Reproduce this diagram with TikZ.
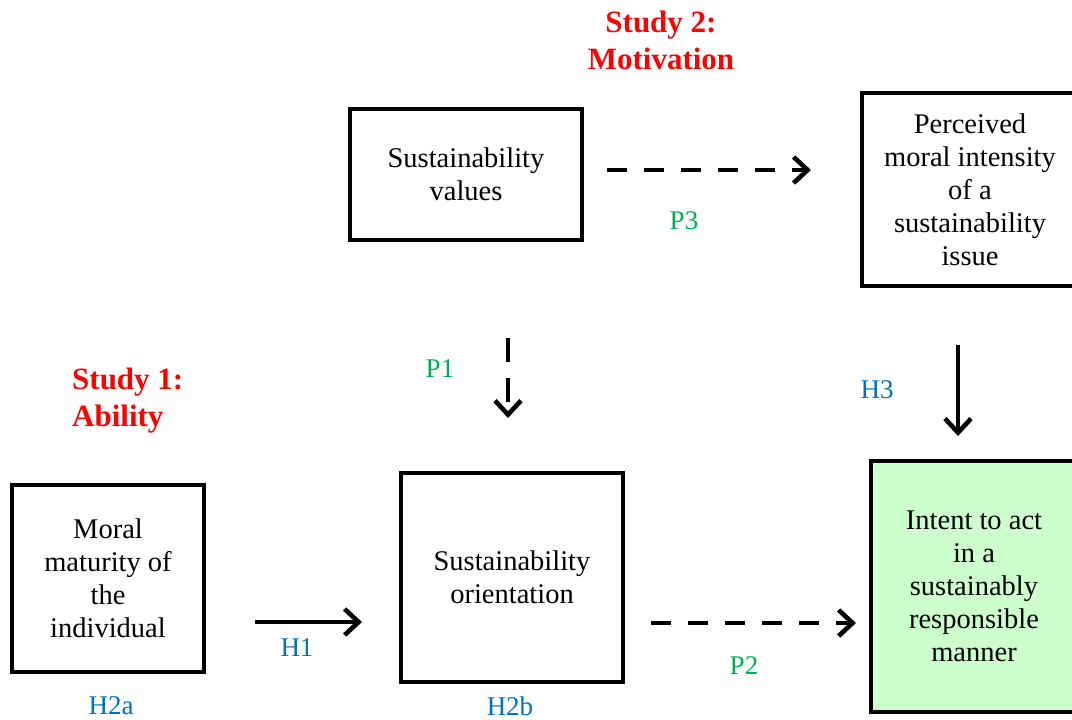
\documentclass[tikz,border=0pt]{standalone}
\usepackage{fontspec}
\setmainfont{Liberation Serif}
\usetikzlibrary{arrows.meta}
\definecolor{studyred}{RGB}{255,0,0}
\definecolor{pgreen}{RGB}{0,176,80}
\definecolor{hblue}{RGB}{0,112,192}
\definecolor{boxgreen}{RGB}{204,255,204}
\begin{document}
\begin{tikzpicture}[x=1pt,y=-1pt,
  box/.style={draw=black,line width=3.6pt,align=center,inner sep=0pt,
    font=\fontsize{28.5pt}{33pt}\selectfont},
  study/.style={text=studyred,font=\fontsize{31pt}{37pt}\selectfont\bfseries,inner sep=0pt},
  plabel/.style={text=pgreen,font=\fontsize{27pt}{30pt}\selectfont,inner sep=0pt},
  hlabel/.style={text=hblue,font=\fontsize{27pt}{30pt}\selectfont,inner sep=0pt},
  arr/.style={line width=4.6pt,-{Straight Barb[length=14pt,width=26pt,line width=4.6pt]}},
  darr/.style={arr,dash pattern=on 20pt off 17pt}
]
\useasboundingbox (0,0) rectangle (1072,720);
\clip (0,0) rectangle (1072,720);

% boxes
\node[box,minimum width=232pt,minimum height=131pt] (sv) at (466,174.5) {Sustainability\\values};
\node[box,minimum width=216pt,minimum height=193pt] (pm) at (970,189.5)
  {Perceived\\moral intensity\\of a\\sustainability\\issue};
\node[box,minimum width=192pt,minimum height=187pt] (mm) at (108,578.5)
  {Moral\\maturity of\\the\\individual};
\node[box,minimum width=222pt,minimum height=209pt] (so) at (512,577.5) {Sustainability\\orientation};
\node[box,fill=boxgreen,minimum width=206pt,minimum height=251pt] (ia) at (974,586.5)
  {Intent to act\\in a\\sustainably\\responsible\\manner};

% study titles
\node[study,align=center] (s2) at (661,40) {Study 2:\\Motivation};
\node[study,align=left,anchor=west] (s1) at (72,401) {Study 1:\\Ability};

% arrow end points
\coordinate (p3a) at (607,170);
\coordinate (p3b) at (811,170);
\coordinate (p1a) at (508,338);
\coordinate (p1b) at (508,418);
\coordinate (h3a) at (958,345);
\coordinate (h3b) at (958,436);
\coordinate (h1a) at (255,622);
\coordinate (h1b) at (362,622);
\coordinate (p2a) at (651,623);
\coordinate (p2b) at (856,623);

\draw[darr] (p3a) -- (p3b);
\draw[arr,dash pattern=on 24pt off 16pt] (p1a) -- (p1b);
\draw[arr] (h3a) -- (h3b);
\draw[arr] (h1a) -- (h1b);
\draw[darr] (p2a) -- (p2b);

% labels
\node[plabel] (lp3) at (684,221) {P3};
\node[plabel] (lp1) at (440,369) {P1};
\node[hlabel] (lh3) at (877,390) {H3};
\node[hlabel] (lh1) at (297,648) {H1};
\node[plabel] (lp2) at (744,666) {P2};
\node[hlabel] (lh2a) at (111,706) {H2a};
\node[hlabel] (lh2b) at (510,706) {H2b};
\end{tikzpicture}
\end{document}
